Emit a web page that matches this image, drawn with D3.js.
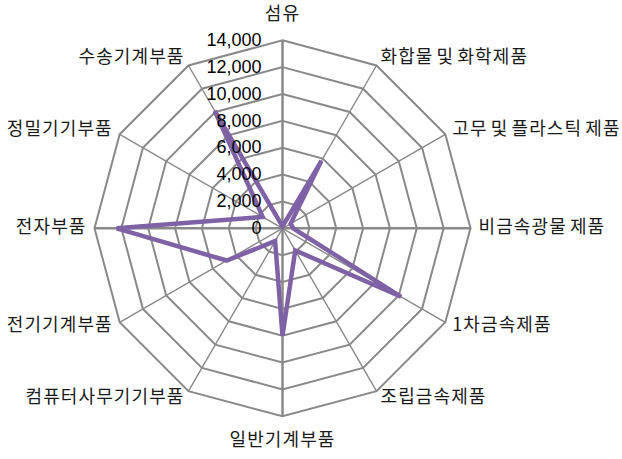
<!DOCTYPE html>
<html>
<head>
<meta charset="utf-8">
<script src="https://cdn.jsdelivr.net/npm/d3@7"></script>
<style>
  html, body { margin: 0; padding: 0; background: #fff; }
  svg { display: block; }
  text { font-family: "Noto Sans CJK KR", "Noto Sans", sans-serif; }
</style>
</head>
<body>
<svg id="chart" width="622" height="459"></svg>
<script>
// Industry categories, clockwise from the top
const categories = [
  "섬유", "화합물 및 화학제품", "고무 및 플라스틱 제품", "비금속광물 제품",
  "1차금속제품", "조립금속제품", "일반기계부품", "컴퓨터사무기기부품",
  "전기기계부품", "전자부품", "정밀기기부품", "수송기계부품"
];
// Value for each category
const values = [150, 5800, 700, 800, 10200, 1900, 8000, 1100, 4800, 12350, 1700, 10100];
// Radial axis ticks
const tickValues = [0, 2000, 4000, 6000, 8000, 10000, 12000, 14000];
const maxValue = 14000;

const svg = d3.select("#chart");
const cx = 282.5, cy = 228.3, R = 188;
const gridColor = "#898989";
const lineColor = "#7E62A5";

const r = d3.scaleLinear().domain([0, maxValue]).range([0, R]);
const angle = d3.scalePoint().domain(d3.range(categories.length))
  .range([0, 2 * Math.PI * (categories.length - 1) / categories.length]);

const g = svg.append("g").attr("transform", `translate(${cx},${cy})`);

// Polygon rings for each tick
const ring = d3.lineRadial()
  .angle((d, i) => angle(i))
  .radius(d => r(d))
  .curve(d3.curveLinearClosed);

g.selectAll("path.ring")
  .data(tickValues.filter(v => v > 0))
  .join("path")
  .attr("class", "ring")
  .attr("d", v => ring(categories.map(() => v)))
  .attr("fill", "none")
  .attr("stroke", gridColor)
  .attr("stroke-width", 2);

// Spokes
g.selectAll("line.spoke")
  .data(categories.map((c, i) => i))
  .join("line")
  .attr("class", "spoke")
  .attr("x1", 0).attr("y1", 0)
  .attr("x2", i => R * Math.sin(angle(i)))
  .attr("y2", i => -R * Math.cos(angle(i)))
  .attr("stroke", gridColor)
  .attr("stroke-width", i => (i % 3 === 0 ? 2.5 : 1.4));

// Data polygon
const dataLine = d3.lineRadial()
  .angle((d, i) => angle(i))
  .radius(d => r(d))
  .curve(d3.curveLinearClosed);

g.append("path")
  .attr("d", dataLine(values))
  .attr("fill", "none")
  .attr("stroke", lineColor)
  .attr("stroke-width", 4.5)
  .attr("stroke-linejoin", "miter");

// Radial axis tick labels
const fmt = d3.format(",");
g.selectAll("text.tick")
  .data(tickValues)
  .join("text")
  .attr("class", "tick")
  .attr("x", -21)
  .attr("y", v => -r(v) + 1)
  .attr("text-anchor", "end")
  .attr("dominant-baseline", "middle")
  .attr("font-size", 18)
  .attr("fill", "#000")
  .style("font-family", "'Liberation Sans', sans-serif")
  .text(v => fmt(v));

// Category labels around the outside
g.selectAll("text.cat")
  .data(categories)
  .join("text")
  .attr("class", "cat")
  .each(function (d, i) {
    const a = angle(i);
    const s = Math.sin(a), c = Math.cos(a);
    const rr = R + 8;
    let x = rr * s, y = -rr * c;
    let anchor = "middle";
    if (s > 0.01) anchor = "start";
    else if (s < -0.01) anchor = "end";
    else y += c > 0 ? -17 : 17;
    d3.select(this)
      .attr("x", x)
      .attr("y", y)
      .attr("text-anchor", anchor)
      .attr("dominant-baseline", "middle");
  })
  .attr("font-size", 18)
  .attr("letter-spacing", 1.1)
  .attr("word-spacing", -2)
  .attr("fill", "#1a1a1a")
  .text(d => d);
</script>
</body>
</html>
